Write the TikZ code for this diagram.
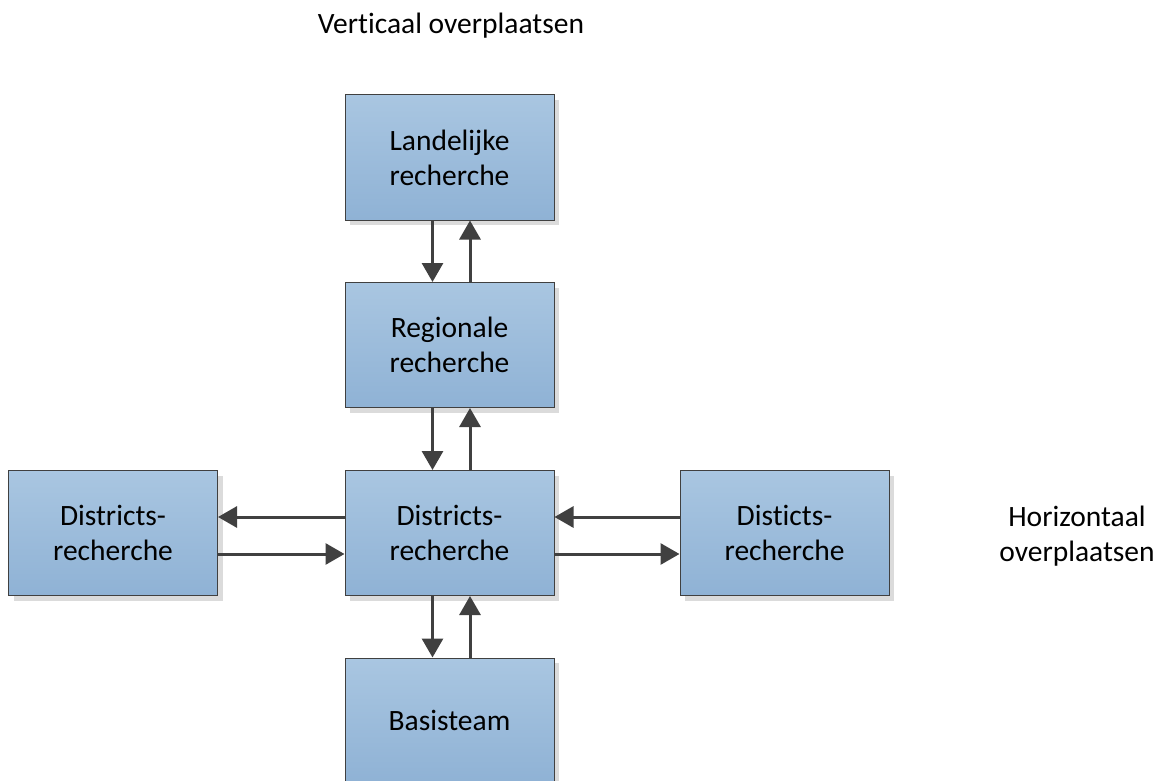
\documentclass[tikz,border=0pt]{standalone}
\usepackage{fontspec}
\setmainfont{Carlito}[Ligatures={NoCommon,NoContextual}]
\usetikzlibrary{arrows.meta,shadows}
\definecolor{boxtop}{HTML}{A9C6E1}
\definecolor{boxbot}{HTML}{8FB2D5}
\definecolor{edge}{HTML}{404040}
\begin{document}
\begin{tikzpicture}[x=1pt,y=-1pt,
  box/.style={draw=edge, line width=1pt, top color=boxtop, bottom color=boxbot,
    minimum width=209pt, minimum height=125pt, inner sep=0pt, align=center,
    font=\fontsize{29.5}{35}\selectfont,
    drop shadow={fill=black!14, opacity=1, shadow xshift=5pt, shadow yshift=-5pt}},
  lbl/.style={align=center, font=\fontsize{29.5}{35}\selectfont, inner sep=0pt},
  arr/.style={draw=edge, line width=3pt, -{Triangle[length=19pt,width=21pt]}}]
\useasboundingbox (0,0) rectangle (1165,781);
\node[box] (L) at (449.5,157.5) {Landelijke\\recherche};
\node[box] (R) at (449.5,345) {Regionale\\recherche};
\node[box] (C) at (449.5,533) {Districts-\\recherche};
\node[box] (W) at (113,533) {Districts-\\recherche};
\node[box] (E) at (784.5,533) {Disticts-\\recherche};
\node[box] (B) at (449.5,720.5) {Basisteam};
\node[lbl] (tv) at (451,26) {Vert\kern0pt icaal overplaatsen};
\node[lbl] (th) at (1077,536) {Horizontaal\\overplaatsen};
% vertical arrows
\draw[arr] ([xshift=-17pt]L.south) -- ([xshift=-17pt]R.north);
\draw[arr] ([xshift=20.5pt]R.north) -- ([xshift=20.5pt]L.south);
\draw[arr] ([xshift=-17pt]R.south) -- ([xshift=-17pt]C.north);
\draw[arr] ([xshift=20.5pt]C.north) -- ([xshift=20.5pt]R.south);
\draw[arr] ([xshift=-17pt]C.south) -- ([xshift=-17pt]B.north);
\draw[arr] ([xshift=20.5pt]B.north) -- ([xshift=20.5pt]C.south);
% horizontal arrows
\draw[arr] ([yshift=16pt]C.west) -- ([yshift=16pt]W.east);
\draw[arr] ([yshift=-21pt]W.east) -- ([yshift=-21pt]C.west);
\draw[arr] ([yshift=16pt]E.west) -- ([yshift=16pt]C.east);
\draw[arr] ([yshift=-21pt]C.east) -- ([yshift=-21pt]E.west);
\end{tikzpicture}
\end{document}
